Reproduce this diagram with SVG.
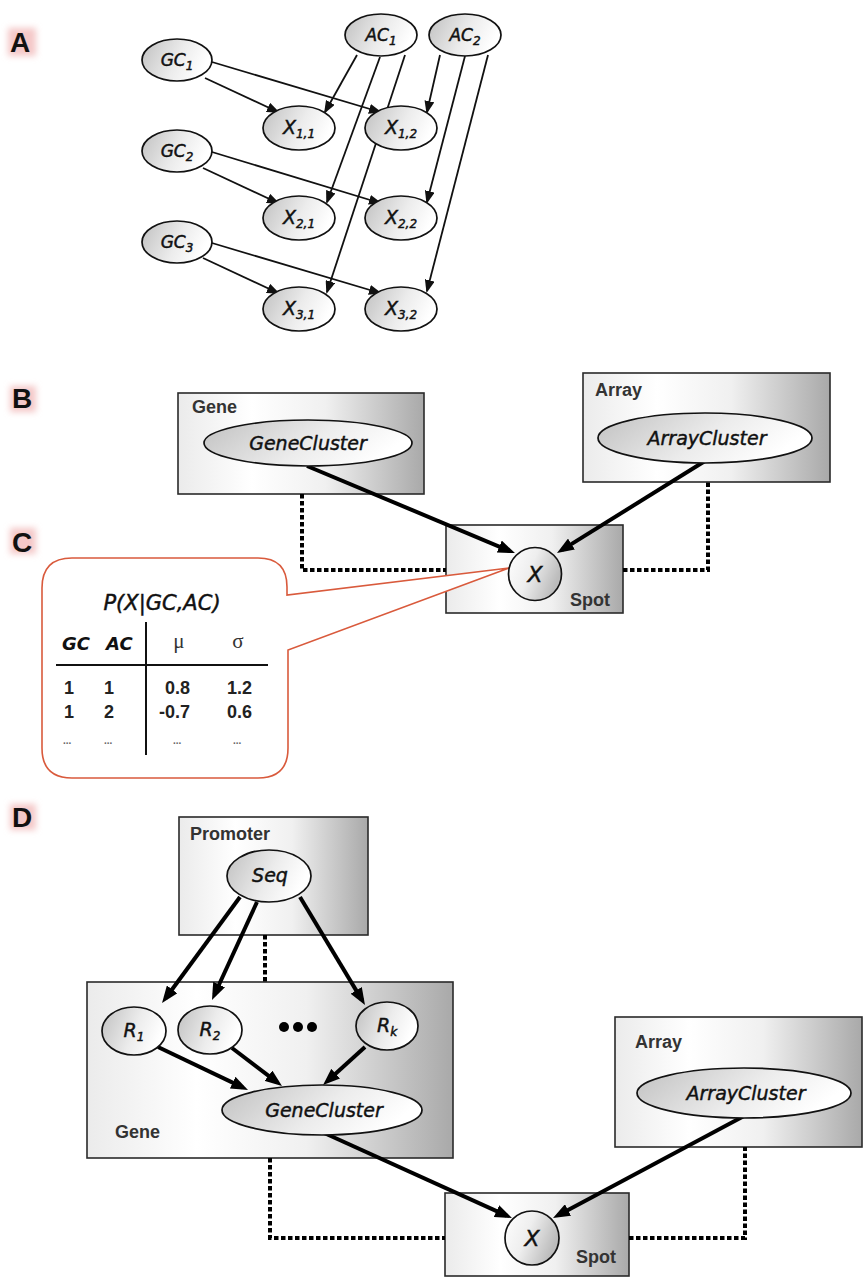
<svg xmlns="http://www.w3.org/2000/svg" width="867" height="1278" viewBox="0 0 867 1278">
<style>
.bg{fill:#fff}
.lbl{font-family:"Liberation Sans",Arial,sans-serif;font-weight:bold;font-size:28px;fill:#111}
.glow{fill:#f4c8c8;filter:url(#blur)}
.box{fill:url(#boxGrad);stroke:#2a2a2a;stroke-width:1.6}
.bl{font-family:"Liberation Sans",Arial,sans-serif;font-weight:bold;font-size:18px;fill:#333}
.ell{fill:url(#ellGrad);stroke:#111;stroke-width:1.7}
.xc{fill:url(#xGrad);stroke:#111;stroke-width:1.7}
.nl{font-family:"DejaVu Sans",sans-serif;font-style:italic;font-size:17px;fill:#111;stroke:#111;stroke-width:0.45;text-anchor:middle}
.sub{font-size:12px}
.cap{font-size:19px}
.big{font-size:19px}
.xl{font-size:22px}
.pt{font-size:21px}
.thin{stroke:#111;stroke-width:1.8;fill:none;marker-end:url(#ah)}
.thick{stroke:#000;stroke-width:4;fill:none;marker-end:url(#ahB)}
.dot{stroke:#000;stroke-width:4;fill:none;stroke-dasharray:4.5 2.5}
.callout{fill:#fff;stroke:#d95a3c;stroke-width:1.6}
.tb{font-family:"Liberation Sans",Arial,sans-serif;font-weight:bold;font-size:18px;fill:#222}
.th{font-family:"DejaVu Sans",sans-serif;font-style:italic;font-weight:bold;font-size:18px;fill:#111}
.gr{font-family:"Liberation Serif","Times New Roman",serif;font-size:21px;fill:#333;text-anchor:middle}
.el{font-family:"Liberation Sans",Arial,sans-serif;font-weight:bold;font-size:10px;fill:#666}
</style>
<defs>
<filter id="blur" x="-50%" y="-50%" width="200%" height="200%"><feGaussianBlur stdDeviation="3"/></filter>
<linearGradient id="boxGrad" x1="0" y1="0" x2="1" y2="0">
<stop offset="0" stop-color="#ebebeb"/><stop offset="0.3" stop-color="#ffffff"/><stop offset="0.6" stop-color="#f0f0f0"/><stop offset="1" stop-color="#a9a9a9"/>
</linearGradient>
<linearGradient id="ellGrad" x1="0" y1="0" x2="1" y2="0.3">
<stop offset="0" stop-color="#c0c0c0"/><stop offset="0.6" stop-color="#ececec"/><stop offset="1" stop-color="#ffffff"/>
</linearGradient>
<linearGradient id="xGrad" x1="0" y1="0" x2="1" y2="0.4">
<stop offset="0" stop-color="#ffffff"/><stop offset="0.5" stop-color="#eeeeee"/><stop offset="1" stop-color="#bcbcbc"/>
</linearGradient>
<marker id="ah" markerUnits="userSpaceOnUse" markerWidth="13" markerHeight="10" refX="11" refY="5" orient="auto">
<path d="M0,0 L13,5 L0,10 z" fill="#111"/>
</marker>
<marker id="ahB" markerUnits="userSpaceOnUse" markerWidth="17" markerHeight="13" refX="11" refY="6.5" orient="auto">
<path d="M0,0 L17,6.5 L0,13 z" fill="#000"/>
</marker>
</defs>
<rect class="bg" x="0" y="0" width="867" height="1278"/>

<g id="panel-labels">
<rect class="glow" x="8" y="28" width="28" height="28"/>
<text class="lbl" x="10" y="52">A</text>
<rect class="glow" x="10" y="386" width="26" height="26"/>
<text class="lbl" x="12" y="408">B</text>
<rect class="glow" x="10" y="528" width="26" height="26"/>
<text class="lbl" x="12" y="552">C</text>
<rect class="glow" x="10" y="804" width="26" height="26"/>
<text class="lbl" x="12" y="827">D</text>
</g>

<!-- container boxes -->
<g id="box-gene-b"><rect class="box" x="178" y="393" width="246" height="101"/><text class="bl" x="192" y="413">Gene</text></g>
<g id="box-array-b"><rect class="box" x="583" y="373" width="247" height="109"/><text class="bl" x="595" y="396">Array</text></g>
<g id="box-spot-b"><rect class="box" x="446" y="525" width="177" height="88"/><text class="bl" x="570" y="606">Spot</text></g>
<g id="box-promoter-d"><rect class="box" x="179" y="817" width="189" height="118"/><text class="bl" x="190" y="840">Promoter</text></g>
<g id="box-gene-d"><rect class="box" x="87" y="982" width="366" height="176"/><text class="bl" x="115" y="1138">Gene</text></g>
<g id="box-array-d"><rect class="box" x="615" y="1017" width="247" height="130"/><text class="bl" x="635" y="1048">Array</text></g>
<g id="box-spot-d"><rect class="box" x="445" y="1193" width="184" height="83"/><text class="bl" x="576" y="1263">Spot</text></g>

<g id="connectors">
<!-- panel A -->
<line class="thin" x1="205" y1="78" x2="278" y2="112"/>
<line class="thin" x1="212" y1="62" x2="380" y2="112"/>
<line class="thin" x1="357" y1="55" x2="325" y2="112"/>
<line class="thin" x1="380" y1="57" x2="327" y2="202"/>
<line class="thin" x1="405" y1="55" x2="327" y2="292"/>
<line class="thin" x1="440" y1="55" x2="427" y2="112"/>
<line class="thin" x1="465" y1="56" x2="427" y2="202"/>
<line class="thin" x1="488" y1="55" x2="427" y2="291"/>
<line class="thin" x1="203" y1="168" x2="278" y2="203"/>
<line class="thin" x1="212" y1="152" x2="380" y2="203"/>
<line class="thin" x1="203" y1="258" x2="278" y2="293"/>
<line class="thin" x1="212" y1="243" x2="380" y2="293"/>
<!-- panel B -->
<path class="dot" d="M302,494 V570 H446"/>
<path class="dot" d="M623,570 H708 V482"/>
<line class="thick" x1="307" y1="466" x2="509.4" y2="550.8"/>
<line class="thick" x1="705" y1="461" x2="562.1" y2="549.9"/>
<!-- panel D -->
<path class="dot" d="M265,935 V982"/>
<path class="dot" d="M270,1158 V1238 H445"/>
<path class="dot" d="M629,1238 H745 V1147"/>
<line class="thick" x1="240" y1="897" x2="165.6" y2="998.2"/>
<line class="thick" x1="257" y1="902" x2="214.5" y2="994.5"/>
<line class="thick" x1="300" y1="897" x2="361.9" y2="999.9"/>
<line class="thick" x1="158" y1="1047" x2="242.6" y2="1087.4"/>
<line class="thick" x1="232" y1="1048" x2="277.2" y2="1082.4"/>
<line class="thick" x1="365" y1="1047" x2="327.5" y2="1081"/>
<line class="thick" x1="322" y1="1132" x2="506.5" y2="1215.6"/>
<line class="thick" x1="744" y1="1116" x2="558.3" y2="1215.2"/>
</g>

<!-- panel A nodes -->
<g id="GC1"><ellipse class="ell" cx="177" cy="60" rx="35" ry="21"/><text class="nl" x="177" y="66">GC<tspan class="sub" dy="4">1</tspan></text></g>
<g id="GC2"><ellipse class="ell" cx="177" cy="151" rx="35" ry="21"/><text class="nl" x="177" y="157">GC<tspan class="sub" dy="4">2</tspan></text></g>
<g id="GC3"><ellipse class="ell" cx="177" cy="242" rx="35" ry="21"/><text class="nl" x="177" y="248">GC<tspan class="sub" dy="4">3</tspan></text></g>
<g id="AC1"><ellipse class="ell" cx="381" cy="35" rx="36" ry="21"/><text class="nl" x="381" y="41">AC<tspan class="sub" dy="4">1</tspan></text></g>
<g id="AC2"><ellipse class="ell" cx="465" cy="35" rx="36" ry="21"/><text class="nl" x="465" y="41">AC<tspan class="sub" dy="4">2</tspan></text></g>
<g id="X11"><ellipse class="ell" cx="299" cy="128" rx="36" ry="22"/><text class="nl" x="299" y="134"><tspan class="cap">X</tspan><tspan class="sub" dy="4">1,1</tspan></text></g>
<g id="X12"><ellipse class="ell" cx="401" cy="128" rx="36" ry="22"/><text class="nl" x="401" y="134"><tspan class="cap">X</tspan><tspan class="sub" dy="4">1,2</tspan></text></g>
<g id="X21"><ellipse class="ell" cx="299" cy="218" rx="36" ry="22"/><text class="nl" x="299" y="224"><tspan class="cap">X</tspan><tspan class="sub" dy="4">2,1</tspan></text></g>
<g id="X22"><ellipse class="ell" cx="401" cy="218" rx="36" ry="22"/><text class="nl" x="401" y="224"><tspan class="cap">X</tspan><tspan class="sub" dy="4">2,2</tspan></text></g>
<g id="X31"><ellipse class="ell" cx="299" cy="309" rx="36" ry="22"/><text class="nl" x="299" y="315"><tspan class="cap">X</tspan><tspan class="sub" dy="4">3,1</tspan></text></g>
<g id="X32"><ellipse class="ell" cx="401" cy="309" rx="36" ry="22"/><text class="nl" x="401" y="315"><tspan class="cap">X</tspan><tspan class="sub" dy="4">3,2</tspan></text></g>

<!-- panel B nodes -->
<g id="GeneCluster-b"><ellipse class="ell" cx="308" cy="443" rx="104" ry="23"/><text class="nl big" x="308" y="450">GeneCluster</text></g>
<g id="ArrayCluster-b"><ellipse class="ell" cx="705" cy="438" rx="107" ry="25"/><text class="nl big" x="707" y="445">ArrayCluster</text></g>

<!-- panel C callout -->
<g id="cpd-callout">
<path class="callout" d="M72,558 H258 Q287,558 287,587 V595 L509,568 L288,650 V748 Q288,778 258,778 H72 Q42,778 42,748 V588 Q42,558 72,558 Z"/>
<text class="nl pt" x="162" y="610">P(X|GC,AC)</text>
<text class="th" x="62" y="650">GC</text>
<text class="th" x="106" y="650">AC</text>
<text class="gr" x="179" y="648">μ</text>
<text class="gr" x="238" y="648">σ</text>
<line x1="56" y1="665" x2="268" y2="665" stroke="#111" stroke-width="2"/>
<line x1="146" y1="622" x2="146" y2="755" stroke="#111" stroke-width="2"/>
<text class="tb" x="64" y="694">1</text>
<text class="tb" x="104" y="694">1</text>
<text class="tb" x="190" y="694" text-anchor="end">0.8</text>
<text class="tb" x="252" y="694" text-anchor="end">1.2</text>
<text class="tb" x="64" y="718">1</text>
<text class="tb" x="104" y="718">2</text>
<text class="tb" x="190" y="718" text-anchor="end">-0.7</text>
<text class="tb" x="252" y="718" text-anchor="end">0.6</text>
<text class="el" x="63" y="744">...</text><text class="el" x="104" y="744">...</text><text class="el" x="173" y="744">...</text><text class="el" x="233" y="744">...</text>
</g>

<g id="X-b"><circle class="xc" cx="535" cy="574" r="26.5"/><text class="nl xl" x="535" y="582">X</text></g>

<!-- panel D nodes -->
<g id="Seq"><ellipse class="ell" cx="269" cy="876" rx="42" ry="26"/><text class="nl big" x="270" y="882">Seq</text></g>
<g id="R1"><ellipse class="ell" cx="134" cy="1031" rx="32" ry="24"/><text class="nl" x="134" y="1037"><tspan class="cap">R</tspan><tspan class="sub" dy="4">1</tspan></text></g>
<g id="R2"><ellipse class="ell" cx="210" cy="1030" rx="32" ry="24"/><text class="nl" x="210" y="1036"><tspan class="cap">R</tspan><tspan class="sub" dy="4">2</tspan></text></g>
<g id="dots"><circle cx="284" cy="1027" r="5" fill="#000"/><circle cx="298" cy="1027" r="5" fill="#000"/><circle cx="312" cy="1027" r="5" fill="#000"/></g>
<g id="Rk"><ellipse class="ell" cx="387" cy="1026" rx="31" ry="24"/><text class="nl" x="387" y="1032"><tspan class="cap">R</tspan><tspan class="sub" dy="4">k</tspan></text></g>
<g id="GeneCluster-d"><ellipse class="ell" cx="322" cy="1110" rx="100" ry="25"/><text class="nl big" x="324" y="1117">GeneCluster</text></g>
<g id="ArrayCluster-d"><ellipse class="ell" cx="744" cy="1093" rx="107" ry="25"/><text class="nl big" x="746" y="1100">ArrayCluster</text></g>
<g id="X-d"><circle class="xc" cx="532" cy="1238" r="27"/><text class="nl xl" x="532" y="1246">X</text></g>
</svg>
